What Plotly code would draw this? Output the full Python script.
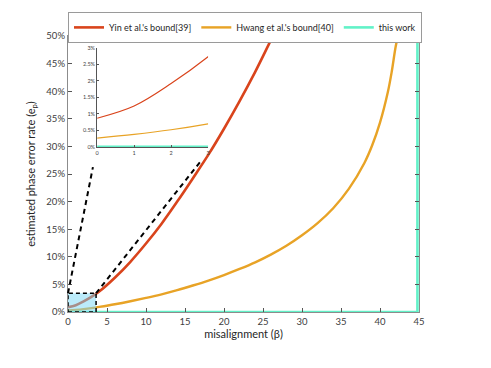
import plotly.graph_objects as go

# misalignment beta and estimated phase error rate (%)
yin_beta = [0, 1, 2, 3, 4, 6, 8, 10, 12, 14, 16, 18, 20, 22, 24, 26, 26.3]
yin_ep = [0.87, 1.24, 1.92, 2.73, 3.7, 6.2, 9.1, 12.4, 16.0, 20.0, 24.2, 28.5, 33.2, 38.2, 43.5, 49.2, 50.0]

hwang_beta = [0, 1, 2, 3, 4, 6, 8, 10, 12, 14, 16, 18, 20, 22, 24, 26, 28, 30, 32, 34,
              36, 38, 39, 40, 41, 41.5, 42, 42.3]
hwang_ep = [0.27, 0.38, 0.52, 0.7, 0.92, 1.4, 1.95, 2.55, 3.2, 3.95, 4.8, 5.7, 6.7, 7.8,
            9.0, 10.4, 12.0, 13.9, 16.1, 18.8, 22.3, 27.0, 30.2, 34.3, 39.8, 43.5, 48.0, 50.0]

this_beta = [0, 44.8, 44.8]
this_ep = [0, 0, 50]

x_ticks = [0, 5, 10, 15, 20, 25, 30, 35, 40, 45]
y_ticks = [0, 5, 10, 15, 20, 25, 30, 35, 40, 45, 50]
y_labels = [f"{v}%" for v in y_ticks]
inset_x_ticks = [0, 1, 2, 3]
inset_y_ticks = [0, 0.5, 1, 1.5, 2, 2.5, 3]
inset_y_labels = ["0%", "0.5%", "1%", "1.5%", "2%", "2.5%", "3%"]

RED = "#D9441C"
YELLOW = "#E8A326"
GREEN = "#62F2C8"
FONT = "Lato"

fig = go.Figure()

# main plot
fig.add_trace(go.Scatter(x=yin_beta, y=yin_ep, mode="lines", name="Yin et al.'s bound[39]",
                         line=dict(color=RED, width=2.6, shape="spline")))
fig.add_trace(go.Scatter(x=hwang_beta, y=hwang_ep, mode="lines", name="Hwang et al.'s bound[40]",
                         line=dict(color=YELLOW, width=2.4, shape="spline")))
fig.add_trace(go.Scatter(x=this_beta, y=this_ep, mode="lines", name="this work",
                         line=dict(color=GREEN, width=2.6)))

# inset (zoom of the small region)
fig.add_trace(go.Scatter(x=yin_beta, y=yin_ep, mode="lines", showlegend=False,
                         line=dict(color=RED, width=1.2, shape="spline"), xaxis="x2", yaxis="y2"))
fig.add_trace(go.Scatter(x=hwang_beta, y=hwang_ep, mode="lines", showlegend=False,
                         line=dict(color=YELLOW, width=1.2, shape="spline"), xaxis="x2", yaxis="y2"))
fig.add_trace(go.Scatter(x=this_beta, y=this_ep, mode="lines", showlegend=False,
                         line=dict(color=GREEN, width=3), xaxis="x2", yaxis="y2"))

# zoom box and connector lines
box_x, box_y = 3.6, 3.4
fig.add_shape(type="rect", xref="x", yref="y", x0=0, x1=box_x, y0=0, y1=box_y,
              fillcolor="rgba(120,215,245,0.5)", line=dict(color="black", width=1.5, dash="4px,3px"),
              layer="above")
fig.add_shape(type="line", xref="paper", yref="paper", x0=0, y0=box_y / 50, x1=0.071, y1=0.525,
              line=dict(color="black", width=2, dash="5px,4px"))
fig.add_shape(type="line", xref="paper", yref="paper", x0=box_x / 45, y0=box_y / 50, x1=0.376, y1=0.543,
              line=dict(color="black", width=2, dash="5px,4px"))

axis_common = dict(showline=True, linecolor="#8c8c8c", linewidth=1.2, mirror="ticks",
                   ticks="inside", ticklen=4, tickcolor="#555", showgrid=False, zeroline=False,
                   automargin=False, tickfont=dict(size=9.5, color="#404040"))
inset_common = dict(showline=True, linecolor="#555", ticks="inside", ticklen=2, tickcolor="#555",
                    showgrid=False, zeroline=False, automargin=False,
                    tickfont=dict(size=5.5, color="#444"))

# page body adds an 8px offset, margins compensate for it
fig.update_layout(
    width=491, height=368,
    margin=dict(l=60, r=80, t=28, b=64, autoexpand=False),
    paper_bgcolor="white", plot_bgcolor="white",
    font=dict(family=FONT, color="#262626"),
    xaxis=dict(range=[0, 45], tickmode="array", tickvals=x_ticks, domain=[0, 1],
               title=dict(text="misalignment (β)", font=dict(size=11), standoff=4), **axis_common),
    yaxis=dict(range=[0, 50], tickmode="array", tickvals=y_ticks, ticktext=y_labels, domain=[0, 1],
               title=dict(text="estimated phase error rate (e<sub>p</sub>)", font=dict(size=11), standoff=8),
               **axis_common),
    xaxis2=dict(domain=[0.083, 0.399], anchor="y2", range=[0, 3], tickmode="array",
                tickvals=inset_x_ticks, **inset_common),
    yaxis2=dict(domain=[0.598, 0.957], anchor="x2", range=[0, 3], tickmode="array",
                tickvals=inset_y_ticks, ticktext=inset_y_labels, **inset_common),
    legend=dict(orientation="h", x=0, xanchor="left", y=0.975, yanchor="bottom",
                bordercolor="#9a9a9a", borderwidth=1, bgcolor="white",
                font=dict(size=9, color="#262626"), tracegroupgap=0),
)

fig.write_html("out.html")
